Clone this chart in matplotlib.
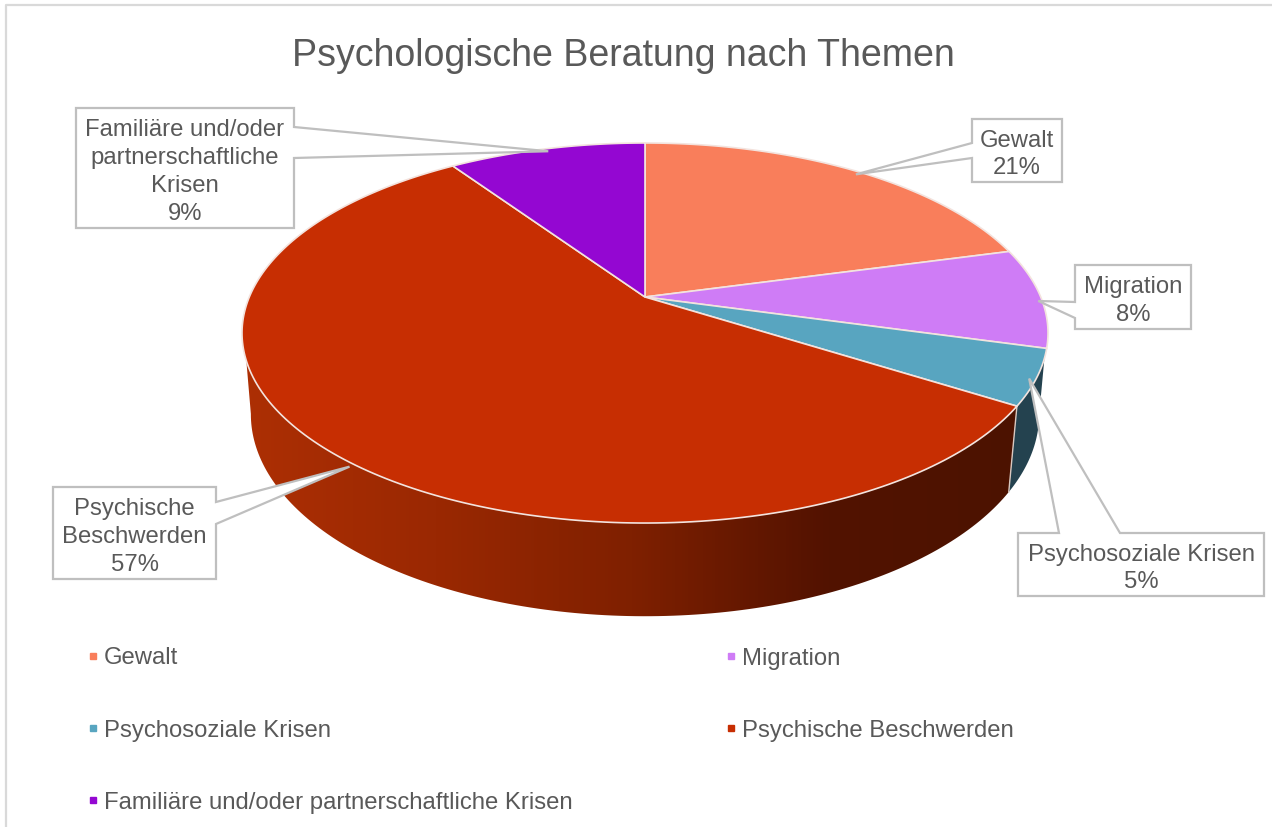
import numpy as np
import matplotlib
matplotlib.use('Agg')
import matplotlib.pyplot as plt
from matplotlib.colors import LinearSegmentedColormap
from matplotlib.patches import Polygon

plt.rcParams['font.family'] = ['Liberation Sans', 'DejaVu Sans']

titulo = 'Psychologische Beratung nach Themen'
temas = ['Gewalt', 'Migration', 'Psychosoziale Krisen', 'Psychische Beschwerden',
         'Familiäre und/oder partnerschaftliche Krisen']
valores = [20.8, 8.49, 4.7, 56.51, 9.49]
colores = ['#f97e5b', '#cf7cf6', '#58a5c0', '#c72e02', '#9407d2']
textos_caja = ['Gewalt', 'Migration', 'Psychosoziale Krisen', 'Psychische\nBeschwerden',
               'Familiäre und/oder\npartnerschaftliche\nKrisen']

GRIS = '#595959'
BORDE = '#bfbfbf'


# circulo inclinado con perspectiva: fraccion 0 arriba, sentido horario, en pixeles
def proyectar(frac, r=1.0, cy=297, a=395.7, b=183.2, k=0.1895):
    ang = 2 * np.pi * np.asarray(frac)
    u, v = r * np.sin(ang), r * np.cos(ang)
    d = 1 + k * v
    return 645 + a * u / d, cy - b * v / d


def arriba(frac, r=1.0):
    return proyectar(frac, r)


def abajo(frac):
    return proyectar(frac, cy=376, a=387, b=194.7)


def pared(f0, f1, f2):
    # arco superior f0->f1 y vuelta por el arco inferior f2->f0
    xs, ys = arriba(np.linspace(f0, f1, 150))
    xi, yi = abajo(np.linspace(f2, f0, 150))
    return np.column_stack([np.r_[xs, xi], np.r_[ys, yi]])


fig = plt.figure(figsize=(12.72, 8.27), dpi=100)
ax = fig.add_axes([0, 0, 1, 1])

limites = np.r_[0, np.cumsum(valores)] / np.sum(valores)

# paredes laterales
fin_psicosocial = limites[3]
ax.add_patch(Polygon(pared(fin_psicosocial, limites[2] + 0.008, limites[2] - 0.012),
                     closed=True, fc='#24424f', ec='none', zorder=2))

pared_roja = Polygon(pared(fin_psicosocial, 0.697, 0.72), closed=True, fc='none', ec='none', zorder=2)
ax.add_patch(pared_roja)
cmap_pared = LinearSegmentedColormap.from_list(
    'pared', ['#ad2f04', '#9a2802', '#7f2000', '#521200', '#4c1200'])
degradado = ax.imshow(np.linspace(0, 1, 256).reshape(1, -1), cmap=cmap_pared, aspect='auto',
                      extent=(240, 1025, 620, 330), zorder=2)
degradado.set_clip_path(pared_roja)
x_sep, y_sep = arriba(fin_psicosocial)
x_inf, y_inf = abajo(fin_psicosocial)
ax.plot([x_sep, x_inf], [y_sep, y_inf], color='#d9c8c0', lw=1, zorder=3)

# cara superior
for i, color in enumerate(colores):
    xs, ys = arriba(np.linspace(limites[i], limites[i + 1], 200))
    ax.add_patch(Polygon(np.column_stack([np.r_[645, xs], np.r_[297, ys]]), closed=True,
                         fc=color, ec='#f3e3de', lw=1.2, zorder=4))

# cajas con puntero: caja (x0, x1, y0, y1), lado, base del puntero, punta
cajas = [
    (972, 1062, 119, 182, 'l', 143, 158, 0.003, 0.98),
    (1075, 1191, 265, 329, 'l', 302, 318, 0.003, 0.99),
    (1018, 1264, 533, 596, 't', 1059, 1120, 0.002, 0.985),
    (53, 216, 487, 579, 'r', 502, 524, -0.0145, 1.012),
    (76, 294, 108, 228, 'r', 127, 158, 0.0, 0.98),
]
for i, (x0, x1, y0, y1, lado, p0, p1, desp, radio) in enumerate(cajas):
    medio = (limites[i] + limites[i + 1]) / 2 + desp
    punta = arriba(medio, radio)
    if lado == 'l':
        pts = [(x0, y0), (x0, p0), punta, (x0, p1), (x0, y1), (x1, y1), (x1, y0)]
    elif lado == 'r':
        pts = [(x0, y0), (x1, y0), (x1, p0), punta, (x1, p1), (x1, y1), (x0, y1)]
    else:
        pts = [(x0, y0), (p0, y0), punta, (p1, y0), (x1, y0), (x1, y1), (x0, y1)]
    ax.add_patch(Polygon(pts, closed=True, fc='white', ec=BORDE, lw=1.6, zorder=5))
    ax.text((x0 + x1) / 2, (y0 + y1) / 2 + 4, f'{textos_caja[i]}\n{valores[i]:.0f}%', ha='center', va='center',
            fontsize=17.2, color=GRIS, linespacing=1.34, zorder=6)

ax.text(623.5, 56, titulo, ha='center', va='center', fontsize=27, color=GRIS)

# leyenda en dos columnas
for i, (tema, color) in enumerate(zip(temas, colores)):
    x = 93 if i % 2 == 0 else 731
    y = 656 + 72 * (i // 2)
    ax.plot([x], [y], marker='s', ms=5, color=color, ls='none')
    ax.text(x + 11, y + 2.5, tema, ha='left', va='center', fontsize=17.2, color=GRIS)

# marco del grafico
ax.plot([6, 6, 1272], [827, 5, 5], color='#d9d9d9', lw=1.6, zorder=1)

ax.set_xlim(0, 1272)
ax.set_ylim(827, 0)
ax.axis('off')

fig.savefig('out.png', dpi=100)
